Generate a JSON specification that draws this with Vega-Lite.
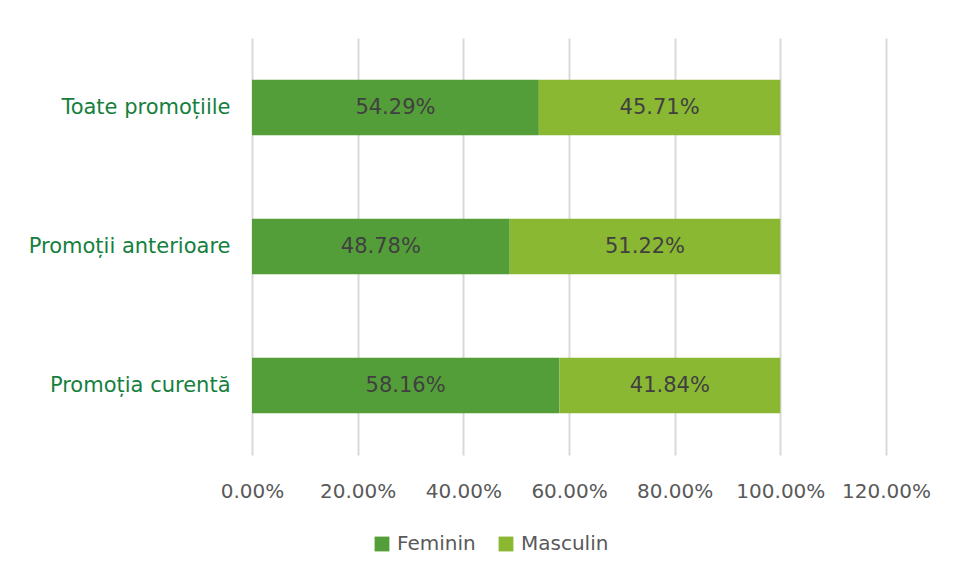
{
  "$schema": "https://vega.github.io/schema/vega-lite/v6.json",
  "width": 634,
  "height": 417,
  "autosize": {"type": "none"},
  "padding": {"left": 252, "top": 38, "right": 71, "bottom": 121},
  "background": "white",
  "config": {
    "font": "DejaVu Sans",
    "view": {"stroke": null}
  },
  "data": {
    "values": [
      {"cat": "Toate promoțiile", "gen": "Feminin", "ord": 1, "val": 0.5429},
      {"cat": "Toate promoțiile", "gen": "Masculin", "ord": 2, "val": 0.4571},
      {"cat": "Promoții anterioare", "gen": "Feminin", "ord": 1, "val": 0.4878},
      {"cat": "Promoții anterioare", "gen": "Masculin", "ord": 2, "val": 0.5122},
      {"cat": "Promoția curentă", "gen": "Feminin", "ord": 1, "val": 0.5816},
      {"cat": "Promoția curentă", "gen": "Masculin", "ord": 2, "val": 0.4184}
    ]
  },
  "transform": [
    {"stack": "val", "groupby": ["cat"], "sort": [{"field": "ord"}], "as": ["v0", "v1"]},
    {"calculate": "(datum.v0 + datum.v1) / 2", "as": "mid"}
  ],
  "encoding": {
    "y": {
      "field": "cat",
      "type": "nominal",
      "sort": ["Toate promoțiile", "Promoții anterioare", "Promoția curentă"],
      "scale": {"paddingInner": 0.6, "paddingOuter": 0.3},
      "axis": {
        "title": null,
        "domain": false,
        "ticks": false,
        "labelFontSize": 21,
        "labelColor": "#15803d",
        "labelPadding": 22,
        "labelLimit": 300
      }
    }
  },
  "layer": [
    {
      "mark": {"type": "bar"},
      "encoding": {
        "x": {
          "field": "v0",
          "type": "quantitative",
          "scale": {"domain": [0, 1.2], "nice": false},
          "axis": {
            "title": null,
            "format": ".2%",
            "values": [0, 0.2, 0.4, 0.6, 0.8, 1.0, 1.2],
            "labelOverlap": false,
            "labelFlush": false,
            "labelBound": false,
            "domain": false,
            "ticks": false,
            "grid": true,
            "gridColor": "#d9d9d9",
            "gridWidth": 2,
            "labelFontSize": 20,
            "labelColor": "#595959",
            "labelPadding": 26
          }
        },
        "x2": {"field": "v1"},
        "color": {
          "field": "gen",
          "type": "nominal",
          "scale": {"domain": ["Feminin", "Masculin"], "range": ["#549E39", "#8AB833"]},
          "legend": {
            "title": null,
            "orient": "none",
            "direction": "horizontal",
            "legendX": 120,
            "legendY": 496,
            "symbolType": "square",
            "symbolSize": 220,
            "symbolStrokeWidth": 0,
            "labelFontSize": 20,
            "labelColor": "#595959",
            "columnPadding": 20,
            "labelOffset": 5
          }
        }
      }
    },
    {
      "mark": {"type": "text", "fontSize": 21, "color": "#404040"},
      "encoding": {
        "x": {"field": "mid", "type": "quantitative"},
        "text": {"field": "val", "type": "quantitative", "format": ".2%"}
      }
    }
  ]
}
